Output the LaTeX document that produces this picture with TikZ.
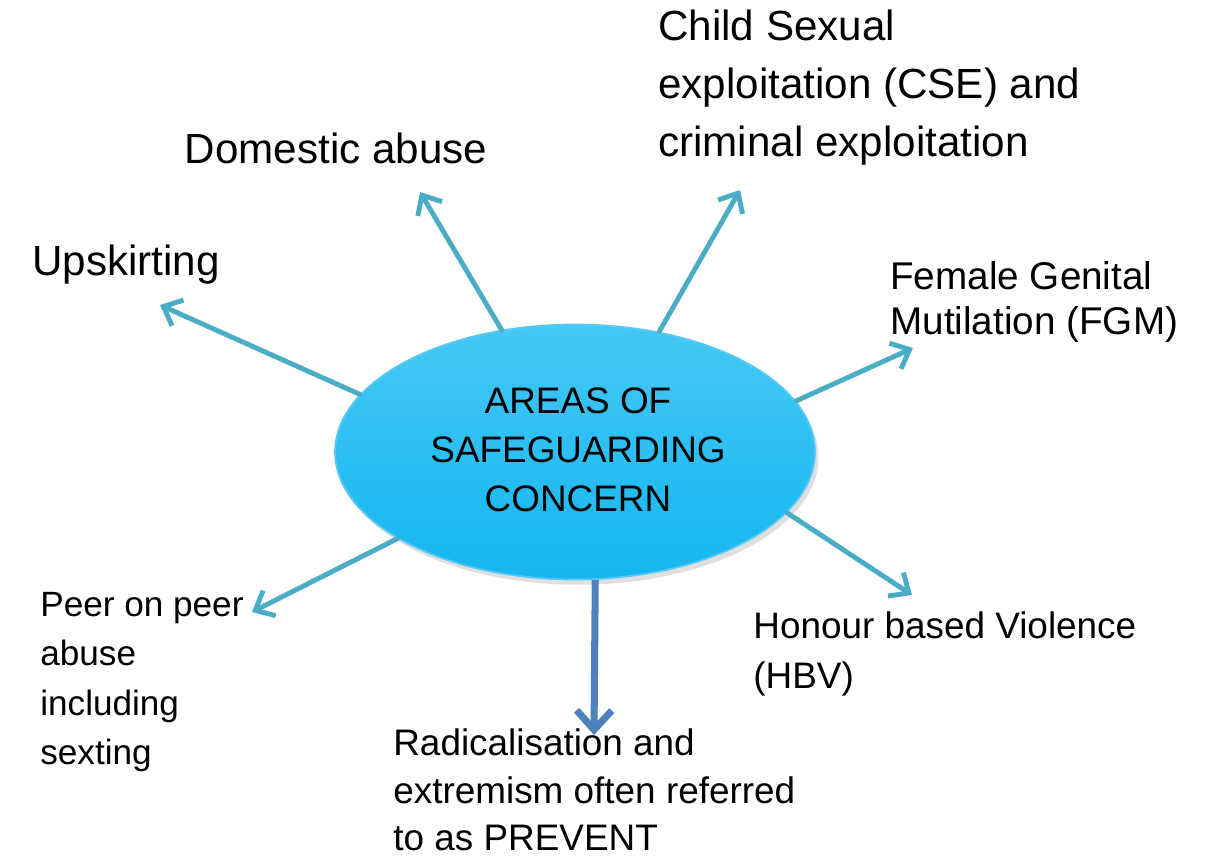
\documentclass[tikz,border=0pt]{standalone}
\usepackage{fontspec}
\setmainfont{Liberation Sans}
\usepackage{tikz}
\usetikzlibrary{arrows.meta}
\usetikzlibrary{shapes.geometric}
\usetikzlibrary{shadows}
\definecolor{spoke}{RGB}{75,172,198}
\definecolor{prevent}{RGB}{79,129,189}
\definecolor{hub}{RGB}{20,182,240}

\tikzset{
	spokearrow/.style={draw=spoke,line width=2.8pt,line cap=round,-{Straight Barb[length=9pt,width=16pt,line width=2.8pt]}},
	bigtext/.style={font=\fontsize{24}{33}\selectfont,inner sep=0pt,align=left},
	midtext/.style={font=\fontsize{21}{28}\selectfont,inner sep=0pt,align=left}
}

\begin{document}
\begin{tikzpicture}[x=0.02cm,y=-0.02cm]
	\useasboundingbox (0,0) rectangle (1220,861);
	\node[ellipse,minimum width=9.6cm,minimum height=5.1cm,top color={rgb,255:red,70;green,200;blue,245},bottom color=hub,draw={rgb,255:red,90;green,200;blue,245},line width=1pt,drop shadow={opacity=0.25,shadow xshift=2pt,shadow yshift=-3pt}] (core) at (575,452) {};
	\node[midtext,align=center] (title) at (578,450) {AREAS OF\\SAFEGUARDING\\CONCERN};
	\node[bigtext] (upskirt) at (126,265) {Upskirting};
	\node[bigtext] (domestic) at (336,148) {Domestic abuse};
	\node[bigtext,anchor=west] (cse) at (658,88) {Child Sexual\\exploitation (CSE) and\\criminal exploitation};
	\node[midtext,anchor=west,font=\fontsize{22}{26}\selectfont] (fgm) at (890,302) {Female Genital\\Mutilation (FGM)};
	\node[midtext,anchor=west] (hbv) at (753,654) {Honour based Violence\\(HBV)};
	\node[midtext,anchor=west,font=\fontsize{20}{28}\selectfont] (peer) at (40,682) {Peer on peer\\abuse\\including\\sexting};
	\node[midtext,anchor=west,font=\fontsize{21}{27}\selectfont] (prev) at (393,790) {Radicalisation and\\extremism often referred\\to as PREVENT};
	\coordinate (upskirttip) at (160,305);
	\coordinate (domestictip) at (420,192);
	\coordinate (csetip) at (740,190);
	\coordinate (fgmtip) at (913,348);
	\coordinate (hbvtip) at (912,595);
	\coordinate (peertip) at (252,612);
	\coordinate (prevtip) at (594,735);
	\draw[spokearrow] (core.165.8) -- (upskirttip);
	\draw[spokearrow] (core.121.6) -- (domestictip);
	\draw[spokearrow] (core.55.1) -- (csetip);
	\draw[spokearrow] (core.13) -- (fgmtip);
	\draw[spokearrow] (core.-16.8) -- (hbvtip);
	\draw[spokearrow] (core.206.7) -- (peertip);
	\draw[draw=prevent,line width=4pt,-{Straight Barb[length=11pt,width=20pt,line width=4pt]}] (core.-81.4) -- (prevtip);
\end{tikzpicture}
\end{document}
